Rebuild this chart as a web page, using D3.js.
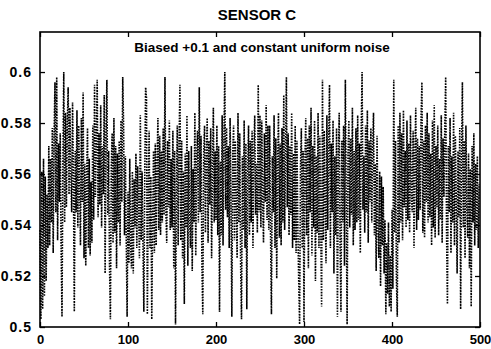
<!DOCTYPE html>
<html>
<head>
<meta charset="utf-8">
<script src="https://cdn.jsdelivr.net/npm/d3@7"></script>
<style>
  body { margin: 0; background: #fff; }
  svg { display: block; }
  text { font-family: "Liberation Sans", Arial, sans-serif; fill: #000; }
</style>
</head>
<body>
<div id="chart"></div>
<script>
const title = 'SENSOR C';
const note = 'Biased +0.1 and constant uniform noise';
const xTicks = [0, 100, 200, 300, 400, 500];
const yTicks = [0.5, 0.52, 0.54, 0.56, 0.58, 0.6];
const yTickLabels = ['0.5', '0.52', '0.54', '0.56', '0.58', '0.6'];

// sensor reading per sample (samples 0..499)
const sensorC = [
  0.538,0.503,0.561,0.507,0.566,0.512,0.559,0.518,0.552,0.531,
  0.571,0.532,0.566,0.541,0.578,0.529,0.575,0.596,0.545,0.598,
  0.534,0.572,0.549,0.576,0.531,0.504,0.563,0.600,0.541,0.584,
  0.547,0.579,0.594,0.552,0.586,0.561,0.545,0.588,0.556,0.506,
  0.569,0.545,0.585,0.539,0.579,0.556,0.532,0.582,0.549,0.592,
  0.527,0.564,0.524,0.559,0.578,0.531,0.566,0.528,0.557,0.533,
  0.579,0.542,0.595,0.551,0.573,0.597,0.543,0.576,0.548,0.587,
  0.539,0.571,0.552,0.591,0.521,0.574,0.597,0.544,0.569,0.524,
  0.503,0.562,0.576,0.533,0.582,0.537,0.571,0.523,0.568,0.541,
  0.573,0.532,0.581,0.549,0.598,0.579,0.536,0.567,0.535,0.504,
  0.553,0.525,0.566,0.531,0.523,0.561,0.521,0.558,0.539,0.568,
  0.531,0.563,0.547,0.527,0.583,0.534,0.561,0.532,0.506,0.557,
  0.594,0.590,0.505,0.551,0.577,0.531,0.559,0.503,0.542,0.569,
  0.529,0.572,0.532,0.564,0.582,0.538,0.575,0.536,0.569,0.541,
  0.578,0.544,0.598,0.546,0.533,0.573,0.547,0.581,0.538,0.566,
  0.539,0.577,0.523,0.569,0.501,0.552,0.579,0.532,0.571,0.595,
  0.534,0.573,0.527,0.561,0.509,0.568,0.539,0.583,0.524,0.569,
  0.543,0.531,0.571,0.522,0.562,0.541,0.584,0.528,0.566,0.577,
  0.541,0.594,0.545,0.575,0.524,0.505,0.568,0.579,0.537,0.564,
  0.582,0.533,0.573,0.548,0.578,0.527,0.562,0.586,0.541,0.569,
  0.542,0.579,0.536,0.571,0.506,0.565,0.536,0.583,0.532,0.574,
  0.600,0.546,0.578,0.543,0.571,0.531,0.582,0.549,0.504,0.568,
  0.579,0.534,0.573,0.548,0.527,0.584,0.541,0.576,0.524,0.503,
  0.567,0.538,0.581,0.531,0.572,0.507,0.561,0.579,0.536,0.573,
  0.541,0.577,0.531,0.568,0.583,0.544,0.564,0.537,0.595,0.545,
  0.583,0.539,0.581,0.549,0.533,0.576,0.549,0.587,0.542,0.579,
  0.538,0.579,0.536,0.505,0.567,0.545,0.583,0.531,0.574,0.519,
  0.563,0.584,0.535,0.572,0.532,0.578,0.541,0.591,0.538,0.567,
  0.598,0.547,0.576,0.536,0.571,0.544,0.584,0.531,0.568,0.534,
  0.579,0.529,0.573,0.539,0.518,0.501,0.562,0.578,0.531,0.569,
  0.502,0.565,0.582,0.536,0.574,0.523,0.579,0.545,0.586,0.528,
  0.571,0.539,0.581,0.518,0.567,0.537,0.584,0.531,0.575,0.541,
  0.508,0.597,0.534,0.577,0.549,0.525,0.583,0.538,0.573,0.595,
  0.531,0.572,0.545,0.581,0.521,0.567,0.536,0.578,0.504,0.564,
  0.584,0.533,0.506,0.573,0.541,0.579,0.524,0.597,0.546,0.501,
  0.568,0.581,0.539,0.574,0.544,0.586,0.532,0.569,0.538,0.578,
  0.541,0.583,0.542,0.572,0.529,0.577,0.600,0.546,0.567,0.537,
  0.579,0.545,0.585,0.533,0.573,0.549,0.578,0.541,0.569,0.584,
  0.536,0.564,0.522,0.575,0.541,0.527,0.561,0.516,0.559,0.532,
  0.555,0.521,0.542,0.505,0.533,0.513,0.541,0.508,0.528,0.506,
  0.546,0.515,0.597,0.537,0.573,0.519,0.504,0.579,0.533,0.584,
  0.541,0.576,0.534,0.585,0.547,0.569,0.539,0.581,0.542,0.572,
  0.537,0.583,0.551,0.545,0.577,0.531,0.568,0.586,0.538,0.574,
  0.542,0.571,0.546,0.582,0.596,0.537,0.573,0.535,0.579,0.549,
  0.584,0.541,0.576,0.543,0.568,0.532,0.581,0.539,0.587,0.535,
  0.571,0.547,0.579,0.536,0.566,0.542,0.583,0.533,0.574,0.551,
  0.578,0.598,0.537,0.509,0.571,0.545,0.582,0.529,0.567,0.541,
  0.584,0.532,0.575,0.551,0.521,0.569,0.543,0.578,0.507,0.566,
  0.596,0.539,0.573,0.527,0.579,0.547,0.535,0.568,0.523,0.562,
  0.508,0.571,0.541,0.576,0.532,0.564,0.538,0.567,0.531,0.556
];

const width = 491, height = 349;
const margin = { top: 32, right: 11, bottom: 22, left: 40 };
const innerW = width - margin.left - margin.right;
const innerH = height - margin.top - margin.bottom;

const svg = d3.select('#chart').append('svg')
  .attr('width', width)
  .attr('height', height);

const x = d3.scaleLinear().domain([0, 500]).range([margin.left, margin.left + innerW]);
const y = d3.scaleLinear().domain([0.5, 0.6157]).range([margin.top + innerH, margin.top]);

// data line, MATLAB style dotted
const line = d3.line()
  .x((d, i) => x(i))
  .y(d => y(d));

svg.append('path')
  .datum(sensorC)
  .attr('fill', 'none')
  .attr('stroke', '#000')
  .attr('stroke-width', 1.6)
  .attr('stroke-dasharray', '1.6 1.2')
  .attr('d', line);

// axes with inward ticks on all sides
const tick = 5;
const axisStyle = g => {
  g.select('.domain').remove();
  g.selectAll('.tick line').attr('stroke', '#000').attr('stroke-width', 1.3);
  g.selectAll('.tick text')
    .attr('font-size', 14)
    .attr('font-weight', 'bold')
    .style('font-family', '"Liberation Sans", Arial, sans-serif');
};

const xAxisG = svg.append('g')
  .attr('transform', `translate(0,${margin.top + innerH})`)
  .call(d3.axisBottom(x).tickValues(xTicks).tickSizeInner(-tick).tickSizeOuter(0).tickPadding(8))
  .call(axisStyle);
xAxisG.selectAll('.tick text').attr('font-size', 13);

svg.append('g')
  .attr('transform', `translate(0,${margin.top})`)
  .call(d3.axisTop(x).tickValues(xTicks).tickSizeInner(-tick).tickSizeOuter(0).tickFormat(''))
  .call(axisStyle);

const yAxisG = svg.append('g')
  .attr('transform', `translate(${margin.left},0)`)
  .call(d3.axisLeft(y).tickValues(yTicks).tickSizeInner(-tick).tickSizeOuter(0).tickPadding(8)
    .tickFormat((d, i) => yTickLabels[i]))
  .call(axisStyle);
yAxisG.selectAll('.tick text').attr('letter-spacing', 1);

svg.append('g')
  .attr('transform', `translate(${margin.left + innerW},0)`)
  .call(d3.axisRight(y).tickValues(yTicks).tickSizeInner(-tick).tickSizeOuter(0).tickFormat(''))
  .call(axisStyle);

// frame
svg.append('rect')
  .attr('x', margin.left)
  .attr('y', margin.top)
  .attr('width', innerW)
  .attr('height', innerH)
  .attr('fill', 'none')
  .attr('stroke', '#000')
  .attr('stroke-width', 1.6);

svg.append('text')
  .attr('x', 257)
  .attr('y', 20)
  .attr('text-anchor', 'middle')
  .attr('font-size', 15)
  .attr('font-weight', 'bold')
  .text(title);

svg.append('text')
  .attr('x', 262)
  .attr('y', 52)
  .attr('text-anchor', 'middle')
  .attr('font-size', 13.5)
  .attr('font-weight', 'bold')
  .text(note);
</script>
</body>
</html>
